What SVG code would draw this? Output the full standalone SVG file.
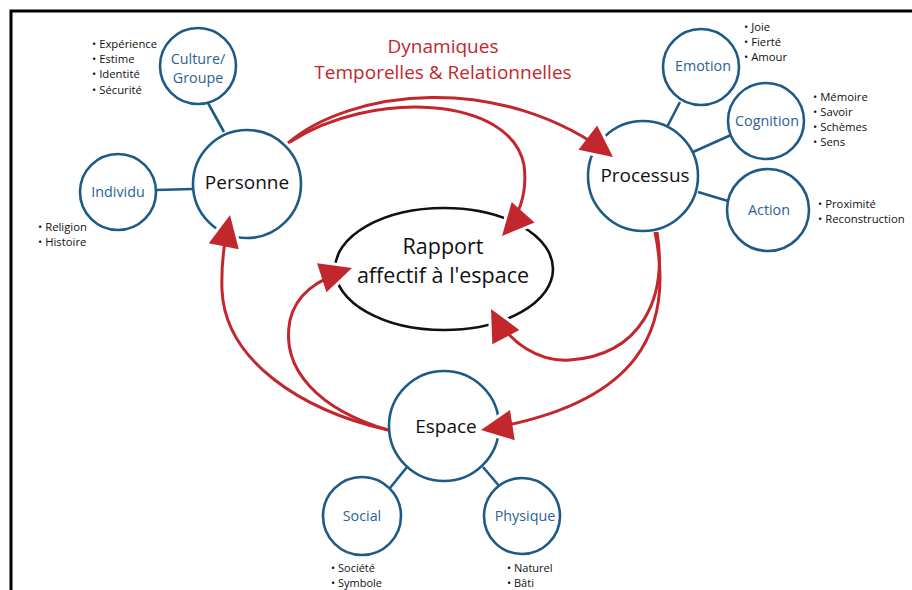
<svg xmlns="http://www.w3.org/2000/svg" width="912" height="590" viewBox="0 0 912 590">
<defs>
<style>
.main{fill:#fff;stroke:#1d5a86;stroke-width:2.6}
.sub{fill:#fff;stroke:#1d5a86;stroke-width:2.6}
.link{stroke:#1d5a86;stroke-width:2.6;fill:none}
.big{font-family:"Open Sans","Liberation Sans",sans-serif;font-size:19px;fill:#111;text-anchor:middle}
.lbl{font-family:"Open Sans","Liberation Sans",sans-serif;font-size:14.3px;fill:#2a6294;text-anchor:middle}
.bul{font-family:"Open Sans","Liberation Sans",sans-serif;font-size:11.3px;fill:#111}
.title{font-family:"Open Sans","Liberation Sans",sans-serif;font-size:19px;fill:#c1272d;text-anchor:middle}
.arr{fill:none;stroke:#c1272d;stroke-width:3;marker-end:url(#ah)}
</style>
<marker id="ah" markerUnits="userSpaceOnUse" markerWidth="44" markerHeight="44" viewBox="-4 -18 36 36" refX="26" refY="0" orient="auto">
<path d="M0,-12.5 L26,0 L0,12.5" fill="none" stroke="#fff" stroke-width="5" stroke-linejoin="round"/>
<path d="M0,-12.5 L26,0 L0,12.5 Z" fill="#c1272d"/>
</marker>
</defs>
<rect width="912" height="590" fill="#fff"/>
<path d="M11,590 V11 H912" fill="none" stroke="#000" stroke-width="3"/>

<g id="connectors">
<line class="link" x1="208" y1="103" x2="224" y2="132"/>
<line class="link" x1="156" y1="190" x2="193" y2="189"/>
<line class="link" x1="680" y1="102" x2="667" y2="127"/>
<line class="link" x1="731" y1="135" x2="693" y2="152"/>
<line class="link" x1="698" y1="192" x2="728" y2="201"/>
<line class="link" x1="407" y1="467" x2="390" y2="488"/>
<line class="link" x1="483" y1="467" x2="500" y2="487"/>
</g>

<g id="rapport">
<ellipse cx="444" cy="269" rx="109" ry="61" fill="none" stroke="#111" stroke-width="2.6"/>
<text class="big" x="443" y="254" style="font-size:21.5px">Rapport</text>
<text class="big" x="443" y="283" style="font-size:21.5px">affectif à l'espace</text>
</g>

<g id="title">
<text class="title" x="443" y="53">Dynamiques</text>
<text class="title" x="443" y="79">Temporelles &amp; Relationnelles</text>
</g>

<g id="personne">
<circle class="main" cx="247" cy="184" r="54"/>
<text class="big" x="247" y="189">Personne</text>
</g>
<g id="culture">
<circle class="sub" cx="198" cy="66" r="38"/>
<text class="lbl" x="198" y="64">Culture/</text>
<text class="lbl" x="198" y="83">Groupe</text>
<text class="bul" x="92" y="48">• Expérience</text>
<text class="bul" x="92" y="63">• Estime</text>
<text class="bul" x="92" y="78">• Identité</text>
<text class="bul" x="92" y="94">• Sécurité</text>
</g>
<g id="individu">
<circle class="sub" cx="118" cy="192" r="38"/>
<text class="lbl" x="118" y="197">Individu</text>
<text class="bul" x="38" y="231">• Religion</text>
<text class="bul" x="38" y="246">• Histoire</text>
</g>

<g id="processus">
<circle class="main" cx="643" cy="176" r="55"/>
<text class="big" x="645" y="182">Processus</text>
</g>
<g id="emotion">
<circle class="sub" cx="701" cy="67" r="38"/>
<text class="lbl" x="703" y="71">Emotion</text>
<text class="bul" x="744" y="31">• Joie</text>
<text class="bul" x="744" y="46">• Fierté</text>
<text class="bul" x="744" y="61">• Amour</text>
</g>
<g id="cognition">
<circle class="sub" cx="766" cy="121" r="38"/>
<text class="lbl" x="767" y="126">Cognition</text>
<text class="bul" x="813" y="101">• Mémoire</text>
<text class="bul" x="813" y="116">• Savoir</text>
<text class="bul" x="813" y="131">• Schèmes</text>
<text class="bul" x="813" y="146">• Sens</text>
</g>
<g id="action">
<circle class="sub" cx="768" cy="210" r="41"/>
<text class="lbl" x="769" y="215">Action</text>
<text class="bul" x="818" y="208">• Proximité</text>
<text class="bul" x="818" y="223">• Reconstruction</text>
</g>

<g id="espace">
<circle class="main" cx="444" cy="426" r="55"/>
<text class="big" x="446" y="433">Espace</text>
</g>
<g id="social">
<circle class="sub" cx="362" cy="516" r="39"/>
<text class="lbl" x="362" y="521">Social</text>
<text class="bul" x="331" y="572" style="font-size:11px">• Société</text>
<text class="bul" x="331" y="587" style="font-size:11px">• Symbole</text>
</g>
<g id="physique">
<circle class="sub" cx="522" cy="516" r="38"/>
<text class="lbl" x="525" y="521">Physique</text>
<text class="bul" x="507" y="572" style="font-size:11px">• Naturel</text>
<text class="bul" x="507" y="587" style="font-size:11px">• Bâti</text>
</g>

<g id="arrows">
<path class="arr" d="M288,143 C350,90 500,70 613,157"/>
<path class="arr" d="M290,142 C370,90 510,95 524,165 C528,195 518,218 502,236"/>
<path class="arr" d="M388,430 C300,410 225,360 222,290 C221,260 225,240 230,215"/>
<path class="arr" d="M388,430 C320,410 280,370 290,320 C296,295 315,280 352,268"/>
<path class="arr" d="M657,232 C668,300 640,355 570,360 C540,362 510,345 491,309"/>
<path class="arr" d="M655,232 C675,330 640,405 481,430"/>
</g>
</svg>
